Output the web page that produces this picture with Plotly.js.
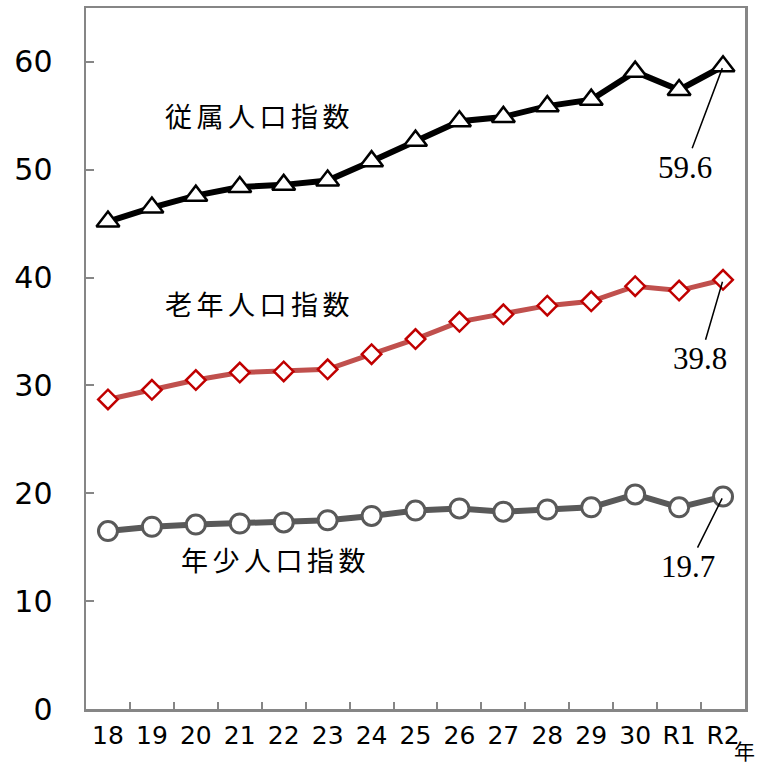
<!DOCTYPE html>
<html>
<head>
<meta charset="utf-8">
<script src="https://cdn.plot.ly/plotly-3.0.1.min.js"></script>
<style>html,body{margin:0;padding:0;background:#fff;}</style>
</head>
<body>
<div id="chart" style="width:757px;height:765px;"></div>
<script>
const years = ["18","19","20","21","22","23","24","25","26","27","28","29","30","R1","R2"];
const dependent = [45.2,46.5,47.6,48.4,48.6,49.0,50.8,52.7,54.5,54.9,55.9,56.5,59.1,57.4,59.6];
const elderly   = [28.7,29.6,30.5,31.2,31.3,31.5,32.9,34.3,35.9,36.6,37.4,37.8,39.2,38.8,39.8];
const young     = [16.5,16.9,17.1,17.2,17.3,17.5,17.9,18.4,18.6,18.3,18.5,18.7,19.9,18.7,19.7];
const seriesNames = ["従属人口指数","老年人口指数","年少人口指数"];
const yTicks = [0,10,20,30,40,50,60];

const sp = "\u2006";
const spaced = s => s.split("").join(sp);

const traces = [
  {x: years, y: young, type: "scatter", mode: "lines+markers", name: seriesNames[2],
   line: {color: "#595959", width: 6},
   marker: {symbol: "circle", size: 19, color: "#ffffff", line: {color: "#595959", width: 3}}},
  {x: years, y: elderly, type: "scatter", mode: "lines+markers", name: seriesNames[1],
   line: {color: "#C0504D", width: 5},
   marker: {symbol: "diamond", size: 15, color: "#ffffff", line: {color: "#C00000", width: 2.5}}},
  {x: years, y: dependent, type: "scatter", mode: "lines+markers", name: seriesNames[0],
   line: {color: "#000000", width: 6},
   marker: {symbol: "triangle-up", size: 20, color: "#ffffff", line: {color: "#000000", width: 2.5}}}
];

const last = years.length - 1;
const valFont = {family: "Liberation Serif, Times New Roman, serif", size: 31, color: "#000"};
const jpFont = {family: "Noto Sans CJK JP, sans-serif", size: 27, color: "#000"};

const layout = {
  width: 757, height: 765,
  margin: {l: 86, r: 12, t: 8, b: 56},
  paper_bgcolor: "#fff", plot_bgcolor: "#fff",
  showlegend: false,
  xaxis: {
    type: "category", range: [-0.5, 14.5],
    tickson: "boundaries", ticks: "inside", ticklen: 7, tickwidth: 2, tickcolor: "#868686",
    showline: true, linecolor: "#868686", linewidth: 2.5, mirror: true,
    showgrid: false, zeroline: false, tickangle: 0,
    tickfont: {family: "DejaVu Sans, sans-serif", size: 25, color: "#000"},
    ticklabelstandoff: 2
  },
  yaxis: {
    range: [0, 65], tickvals: yTicks, ticktext: yTicks.map(String),
    ticks: "inside", ticklen: 8, tickwidth: 2, tickcolor: "#868686",
    showline: true, linecolor: "#868686", linewidth: 2.5, mirror: true,
    showgrid: false, zeroline: false,
    tickfont: {family: "DejaVu Sans, sans-serif", size: 30, color: "#000"},
    ticklabelstandoff: 25
  },
  annotations: [
    {xref: "paper", yref: "paper", x: 0.261, y: 0.847, xanchor: "center", yanchor: "middle",
     text: spaced(seriesNames[0]), showarrow: false, font: jpFont},
    {xref: "paper", yref: "paper", x: 0.261, y: 0.579, xanchor: "center", yanchor: "middle",
     text: spaced(seriesNames[1]), showarrow: false, font: jpFont},
    {xref: "paper", yref: "paper", x: 0.284, y: 0.2126, xanchor: "center", yanchor: "middle",
     text: spaced(seriesNames[2]), showarrow: false, font: jpFont},
    {x: years[last], y: dependent[last], text: dependent[last].toFixed(1), showarrow: true, arrowhead: 0,
     arrowwidth: 1.5, arrowcolor: "#000", ax: -38, ay: 101, standoff: 2, font: valFont},
    {x: years[last], y: elderly[last], text: elderly[last].toFixed(1), showarrow: true, arrowhead: 0,
     arrowwidth: 1.5, arrowcolor: "#000", ax: -23, ay: 79, standoff: 2, font: valFont},
    {x: years[last], y: young[last], text: young[last].toFixed(1), showarrow: true, arrowhead: 0,
     arrowwidth: 1.5, arrowcolor: "#000", ax: -35, ay: 70, standoff: 2, font: valFont},
    {xref: "paper", yref: "paper", x: 0.9985, y: -0.0585, yanchor: "middle", xanchor: "center",
     borderpad: 0, text: "年", showarrow: false,
     font: {family: "Noto Sans CJK JP, sans-serif", size: 21, color: "#000"}}
  ]
};

Plotly.newPlot("chart", traces, layout, {displayModeBar: false, staticPlot: true});
</script>
</body>
</html>
